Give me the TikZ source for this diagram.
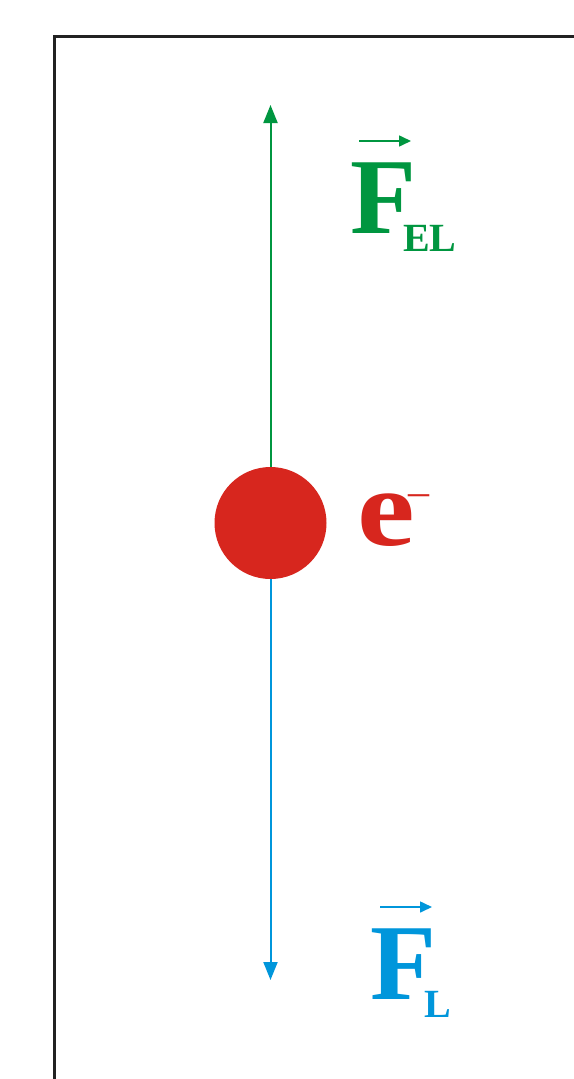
\documentclass[tikz,border=0pt]{standalone}
\usepackage{fontspec}
\setmainfont{Liberation Serif}
\usetikzlibrary{arrows.meta}
\definecolor{fgreen}{RGB}{0,150,64}
\definecolor{fblue}{RGB}{0,150,219}
\definecolor{ered}{RGB}{215,38,30}
\definecolor{frame}{RGB}{34,34,34}
\tikzset{
  bigF/.style={inner sep=0pt, anchor=base west, font=\fontsize{108}{108}\selectfont\bfseries},
  subs/.style={inner sep=0pt, anchor=base west, font=\fontsize{40}{40}\selectfont\bfseries},
  force/.style={line width=2pt, -{Triangle[length=18pt,width=14pt]}},
  vecarrow/.style={line width=1.6pt, -{Triangle[length=12pt,width=11pt]}},
}
\begin{document}
\begin{tikzpicture}[x=1pt,y=-1pt]
\useasboundingbox (0,0) rectangle (573,1079);
\fill[white] (0,0) rectangle (573,1079);
\draw[frame, line width=2.6pt] (54.5,1085) -- (54.5,36.5) -- (580,36.5);
% electron
\node[circle, fill=ered, minimum size=112pt, inner sep=0pt] (e) at (270.5,523) {};
\node[inner sep=0pt, anchor=base west, text=ered, font=\fontsize{110}{110}\selectfont\bfseries] (elabel) at (357,545) {\scalebox{1.18}[1]{e}};
\node[inner sep=0pt, anchor=center, text=ered, font=\fontsize{42}{42}\selectfont] (eminus) at (418.5,500) {\textendash};
% forces
\coordinate (topTip) at (270.5,105);
\coordinate (botTip) at (270.5,980);
\draw[force, fgreen] (e.north) -- (topTip);
\draw[force, fblue] (e.south) -- (botTip);
% F_EL
\node[bigF, text=fgreen] (Fel) at (350,233) {F};
\node[subs, text=fgreen] (Felsub) at (403,251) {EL};
\coordinate (vA1) at (359,141);
\coordinate (vA2) at (411,141);
\draw[vecarrow, fgreen] (vA1) -- (vA2);
% F_L
\node[bigF, text=fblue] (Fl) at (370,999) {F};
\node[subs, text=fblue] (Flsub) at (424,1017) {L};
\coordinate (vB1) at (380,907);
\coordinate (vB2) at (432,907);
\draw[vecarrow, fblue] (vB1) -- (vB2);
\end{tikzpicture}
\end{document}
